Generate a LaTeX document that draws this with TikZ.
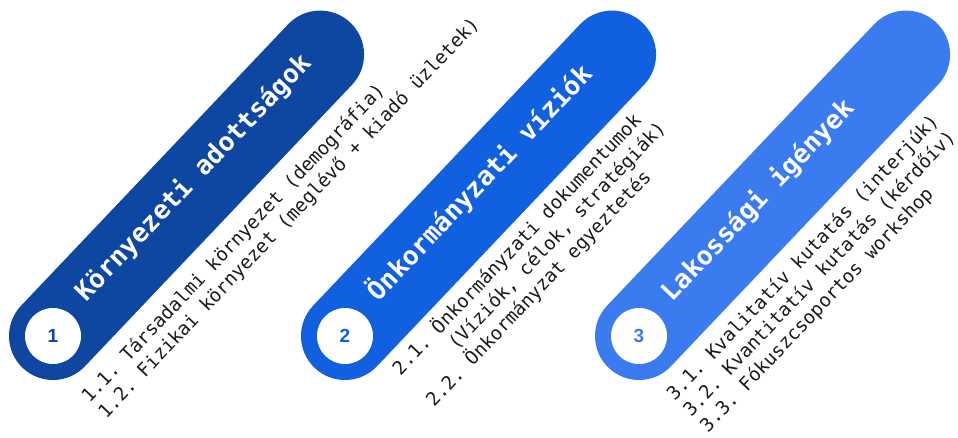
\documentclass[tikz,border=0pt]{standalone}
\usepackage{fontspec}
\setmonofont{DejaVu Sans Mono}
\newfontfamily\numfont{Liberation Sans}
\usetikzlibrary{calc}
\definecolor{navyband}{HTML}{0D47A1}
\definecolor{midband}{HTML}{1160DF}
\definecolor{skyband}{HTML}{3A7CF0}
\definecolor{itemtext}{HTML}{1A1A1A}

\begin{document}
\begin{tikzpicture}[x=1pt, y=1pt,
		band/.style  = {line width=88pt, line cap=round},
		badge/.style = {circle, fill=white, minimum size=56pt, inner sep=0pt, font=\numfont\bfseries\fontsize{19}{19}\selectfont},
		title/.style = {anchor=base west, rotate=46.5, inner sep=0pt, text=white, font=\ttfamily\bfseries\fontsize{26}{26}\selectfont},
		item/.style  = {anchor=base west, rotate=46.5, inner sep=0pt, text=itemtext, font=\ttfamily\frenchspacing\fontsize{18.8}{18.8}\selectfont}
		]
		\useasboundingbox (0,0) rectangle (958,437);
		
		% === === Bands === ===
		\coordinate	(b1)	at	(53, 101);
		\coordinate	(b2)	at	(345, 101);
		\coordinate	(b3)	at	(639, 101);
		
		\draw[band, navyband]	(b1)	--	++(46.5:388)	coordinate	(b1-end);
		\draw[band, midband]	(b2)	--	++(46.5:388)	coordinate	(b2-end);
		\draw[band, skyband]	(b3)	--	++(46.5:388)	coordinate	(b3-end);
		
		% === === Nodes === ===
		\node[badge, text=navyband]	(n1)	at	(b1)	{1};
		\node[badge, text=midband]	(n2)	at	(b2)	{2};
		\node[badge, text=skyband]	(n3)	at	(b3)	{3};
		
		\node[title]	(t1)	at	($(b1)+(46.5:47)+(-43.5:1)$)	{Környezeti adottságok};
		\node[title]	(t2)	at	($(b2)+(46.5:47)+(-43.5:1)$)	{Önkormányzati víziók};
		\node[title]	(t3)	at	($(b3)+(46.5:47)+(-43.5:1)$)	{Lakossági igények};
		
		% === === Items === ===
		\node[item]	(i11)	at	($(b1)+(46.5:-24)+(-43.5:73)$)	{1.1. Társadalmi környezet (demográfia)};
		\node[item]	(i12)	at	($(b1)+(46.5:-24)+(-43.5:96)$)	{1.2. Fizikai környezet (meglévő + kiadó üzletek)};
		
		\node[item]	(i21)	at	($(b2)+(46.5:9)+(-43.5:68)$)	{2.1. Önkormányzati dokumentumok};
		\node[item]	(i21b)	at	($(b2)+(46.5:9)+(-43.5:91)$)	{~~~~~(Víziók, célok, stratégiák)};
		\node[item]	(i22)	at	($(b2)+(46.5:9)+(-43.5:114)$)	{2.2. Önkormányzat egyeztetés};
		
		\node[item]	(i31)	at	($(b3)+(46.5:-23)+(-43.5:71)$)	{3.1. Kvalitatív kutatás (interjúk)};
		\node[item]	(i32)	at	($(b3)+(46.5:-23)+(-43.5:94)$)	{3.2. Kvantitatív kutatás (kérdőív)};
		\node[item]	(i33)	at	($(b3)+(46.5:-23)+(-43.5:117)$)	{3.3. Fókuszcsoportos workshop};
		
	\end{tikzpicture}
\end{document}
